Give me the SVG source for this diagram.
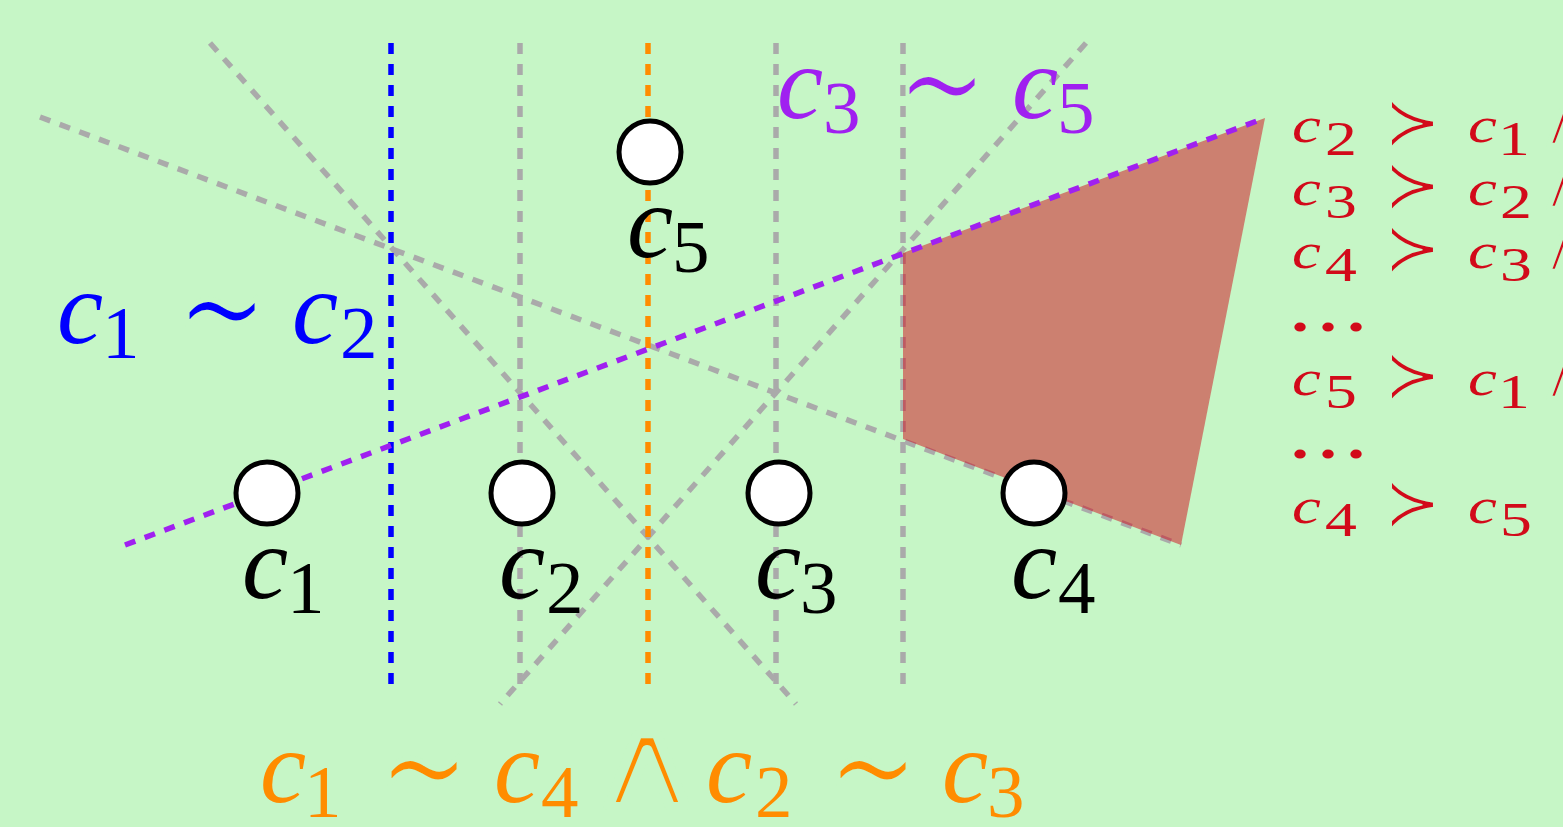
<svg xmlns="http://www.w3.org/2000/svg" width="1563" height="827" viewBox="0 0 1563 827">
<style>
.ln{fill:none;stroke-width:5.5;stroke-dasharray:11 10}
.g{stroke:#aaaaaa}
.bl{stroke:#0000ff}
.or{stroke:#ff8c00}
.pu{stroke:#a020f0}
.node{fill:#ffffff;stroke:#000000;stroke-width:5}
.v{font-family:'Liberation Serif',serif;font-style:italic;font-size:104px}
.d{font-family:'Liberation Serif',serif;font-size:75px}
.op{font-family:'DejaVu Sans',sans-serif;font-size:110px;stroke:#c6f6c6;stroke-width:3.8;stroke-linejoin:round}
.wedge{font-family:'DejaVu Sans',sans-serif;font-size:124px;stroke:#c6f6c6;stroke-width:8;stroke-linejoin:round}
.rv{font-family:'Liberation Serif',serif;font-style:italic;font-size:50px}
.rd{font-family:'Liberation Serif',serif;font-size:49px}
.rdots{font-family:'Liberation Serif',serif;font-size:54px;font-weight:bold;letter-spacing:8px}
.rop{font-family:'DejaVu Sans',sans-serif;font-size:68px;stroke:#c6f6c6;stroke-width:1.6;stroke-linejoin:round}
.rw{font-family:'DejaVu Sans',sans-serif;font-size:70px;stroke:#c6f6c6;stroke-width:4.5;stroke-linejoin:round}
</style>
<rect x="0" y="0" width="1563" height="827" fill="#c6f6c6"/>
<g id="connectors">
<line class="ln g" x1="520" y1="43" x2="520" y2="693"/>
<line class="ln g" x1="776" y1="43" x2="776" y2="693"/>
<line class="ln g" x1="903" y1="43" x2="903" y2="693"/>
<line class="ln g" x1="210" y1="43" x2="796" y2="704"/>
<line class="ln g" x1="1086" y1="43" x2="500" y2="704"/>
<line class="ln g" x1="40" y1="117" x2="1181" y2="545"/>
<line class="ln bl" x1="391" y1="43" x2="391" y2="693"/>
<line class="ln or" x1="648" y1="43" x2="648" y2="693"/>
</g>
<g id="region">
<polygon points="903,253 1265,118 1181,545 903,439" fill="#d20a1a" fill-opacity="0.5"/>
</g>
<g id="bisector-c3-c5">
<line class="ln pu" x1="125" y1="545" x2="1265" y2="118"/>
</g>
<g id="c1"><circle class="node" cx="267" cy="493" r="31"/>
<text x="242" y="598" class="v">c</text><text x="287" y="613" class="d">1</text></g>
<g id="c2"><circle class="node" cx="522" cy="493" r="31"/>
<text x="499" y="598" class="v">c</text><text x="546" y="613" class="d">2</text></g>
<g id="c3"><circle class="node" cx="779" cy="493" r="31"/>
<text x="755" y="598" class="v">c</text><text x="800" y="613" class="d">3</text></g>
<g id="c4"><circle class="node" cx="1034" cy="493" r="31"/>
<text x="1011" y="598" class="v">c</text><text x="1058" y="613" class="d">4</text></g>
<g id="c5"><circle class="node" cx="650" cy="152" r="31"/>
<text x="627" y="257" class="v">c</text><text x="672" y="272" class="d">5</text></g>
<g id="label-c1-c2" fill="#0000ff">
<text x="57" y="343" class="v">c</text><text x="102" y="358" class="d">1</text>
<text transform="translate(176 315) scale(1 1.5)" x="0" y="32" class="op">∼</text>
<text x="292" y="343" class="v">c</text><text x="340" y="358" class="d">2</text>
</g>
<g id="label-c3-c5" fill="#a020f0">
<text x="777" y="118" class="v">c</text><text x="823" y="133" class="d">3</text>
<text transform="translate(896 90) scale(1 1.5)" x="0" y="32" class="op">∼</text>
<text x="1012" y="118" class="v">c</text><text x="1057" y="133" class="d">5</text>
</g>
<g id="label-bottom" fill="#ff8c00">
<text x="260" y="802" class="v">c</text><text x="304" y="817" class="d">1</text>
<text transform="translate(378 774) scale(1 1.5)" x="0" y="32" class="op">∼</text>
<text x="494" y="802" class="v">c</text><text x="541" y="817" class="d">4</text>
<text transform="translate(588 806) scale(1.3 1)" x="0" y="0" class="wedge">∧</text>
<text x="706" y="802" class="v">c</text><text x="755" y="817" class="d">2</text>
<text transform="translate(827 774) scale(1 1.5)" x="0" y="32" class="op">∼</text>
<text x="942" y="802" class="v">c</text><text x="987" y="817" class="d">3</text>
</g>
<g id="preferences" fill="#d20a1a">
<g transform="translate(1290 0) scale(1.3 1)">
<text x="1.5" y="142" class="rv">c</text><text x="27" y="155" class="rd">2</text><text x="137" y="142" class="rv">c</text><text x="160" y="155" class="rd">1</text>
<text x="1.5" y="205" class="rv">c</text><text x="27" y="218" class="rd">3</text><text x="137" y="205" class="rv">c</text><text x="161.5" y="218" class="rd">2</text>
<text x="1.5" y="268" class="rv">c</text><text x="27" y="281" class="rd">4</text><text x="137" y="268" class="rv">c</text><text x="161.5" y="281" class="rd">3</text>
<text x="1" y="331" class="rdots">...</text>
<text x="1.5" y="395" class="rv">c</text><text x="27" y="408" class="rd">5</text><text x="137" y="395" class="rv">c</text><text x="160" y="408" class="rd">1</text>
<text x="1" y="458" class="rdots">...</text>
<text x="1.5" y="523" class="rv">c</text><text x="27" y="536" class="rd">4</text><text x="137" y="523" class="rv">c</text><text x="161.5" y="536" class="rd">5</text>
</g>
<text x="1384" y="145" class="rop">≻</text><text transform="translate(1538 145) scale(1.2 1)" class="rw">∧</text>
<text x="1384" y="208" class="rop">≻</text><text transform="translate(1538 208) scale(1.2 1)" class="rw">∧</text>
<text x="1384" y="271" class="rop">≻</text><text transform="translate(1538 271) scale(1.2 1)" class="rw">∧</text>
<text x="1384" y="398" class="rop">≻</text><text transform="translate(1538 398) scale(1.2 1)" class="rw">∧</text>
<text x="1384" y="526" class="rop">≻</text>
</g>
</svg>
